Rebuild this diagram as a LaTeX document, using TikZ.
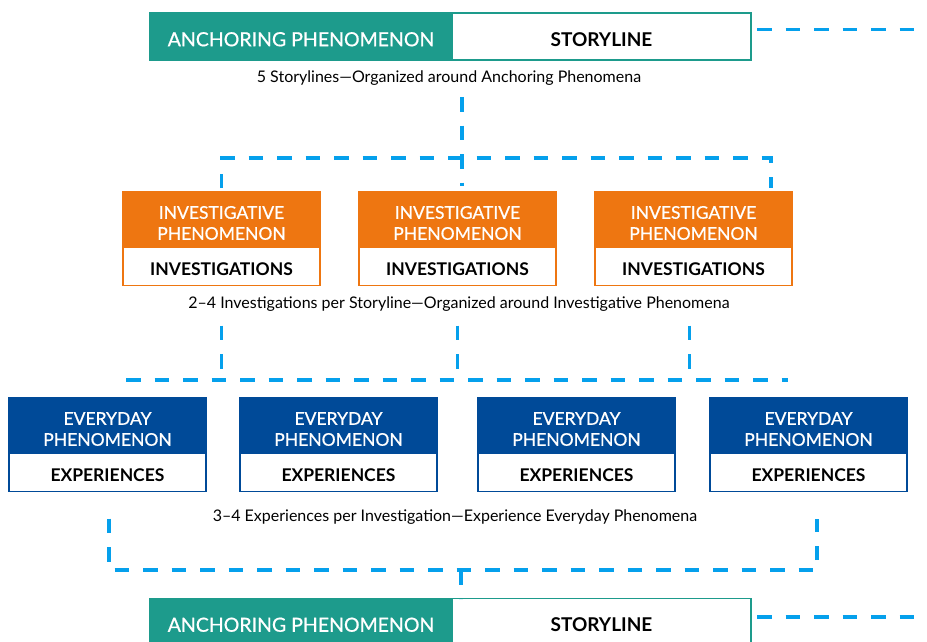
\documentclass[tikz,border=0pt]{standalone}
\usepackage{fontspec}
\setmainfont{Lato}
\newfontfamily\medfont{Lato}[FakeBold=0.7]
\usetikzlibrary{positioning, calc}
\definecolor{anchorteal}{RGB}{29,155,140}
\definecolor{invorange}{RGB}{238,118,17}
\definecolor{dayblue}{RGB}{0,74,152}
\definecolor{linkblue}{RGB}{5,160,236}
\tikzset{
    anchorbox/.style={rectangle, draw=anchorteal, fill=anchorteal, line width=1.2pt, outer sep=0pt, inner sep=0pt, minimum width=302pt, minimum height=47pt, text=white, text height=19.5pt, text depth=0pt, font=\medfont\fontsize{19.5}{20}\selectfont},
    storybox/.style={rectangle, draw=anchorteal, fill=white, line width=1.2pt, outer sep=0pt, inner sep=0pt, minimum width=299pt, minimum height=47pt, text height=19.5pt, text depth=0pt, font=\bfseries\fontsize{19}{20}\selectfont},
    phenbox/.style={rectangle, draw=#1, fill=#1, line width=1.5pt, outer sep=0pt, inner sep=0pt, minimum width=197pt, minimum height=55pt, align=center, text=white, text height=40.5pt, text depth=0pt, font=\medfont\fontsize{17.5}{21}\selectfont},
    workbox/.style={rectangle, draw=#1, fill=white, line width=1.5pt, outer sep=0pt, inner sep=0pt, minimum width=197pt, minimum height=38.5pt, text height=17.5pt, text depth=0pt, font=\bfseries\fontsize{17.5}{18}\selectfont},
    caption/.style={font=\fontsize{16}{17}\selectfont},
    link/.style={draw=linkblue, line width=3.2pt, dash pattern=on 14.5pt off 14pt}
}

\begin{document}
\begin{tikzpicture}[x=1pt, y=-1pt]
    \useasboundingbox (0,0) rectangle (927,642);

    % storyline
    \node (anc1) [anchorbox] at (301,36.5) {ANCHORING PHENOMENON};
    \node (story1) [storybox, right=0pt of anc1] {STORYLINE};
    \node (cap1) [caption] at (449,78) {5 Storylines—Organized around Anchoring Phenomena};

    % investigations
    \node (ip1) [phenbox=invorange] at (221.5,219.5) {INVESTIGATIVE\\PHENOMENON};
    \node (inv1) [workbox=invorange, below=0pt of ip1] {INVESTIGATIONS};
    \node (ip2) [phenbox=invorange, right=39pt of ip1] {INVESTIGATIVE\\PHENOMENON};
    \node (inv2) [workbox=invorange, below=0pt of ip2] {INVESTIGATIONS};
    \node (ip3) [phenbox=invorange, right=39pt of ip2] {INVESTIGATIVE\\PHENOMENON};
    \node (inv3) [workbox=invorange, below=0pt of ip3] {INVESTIGATIONS};
    \node (cap2) [caption] at (459,304) {2–4 Investigations per Storyline—Organized around Investigative Phenomena};

    % experiences
    \node (ep1) [phenbox=dayblue] at (107.5,425.5) {EVERYDAY\\PHENOMENON};
    \node (ex1) [workbox=dayblue, below=0pt of ep1] {EXPERIENCES};
    \node (ep2) [phenbox=dayblue, right=34pt of ep1] {EVERYDAY\\PHENOMENON};
    \node (ex2) [workbox=dayblue, below=0pt of ep2] {EXPERIENCES};
    \node (ep3) [phenbox=dayblue, right=41pt of ep2] {EVERYDAY\\PHENOMENON};
    \node (ex3) [workbox=dayblue, below=0pt of ep3] {EXPERIENCES};
    \node (ep4) [phenbox=dayblue, right=35pt of ep3] {EVERYDAY\\PHENOMENON};
    \node (ex4) [workbox=dayblue, below=0pt of ep4] {EXPERIENCES};
    \node (cap3) [caption] at (455,517) {3–4 Experiences per Investigation—Experience Everyday Phenomena};

    % next storyline
    \node (anc2) [anchorbox] at (301,622) {ANCHORING PHENOMENON};
    \node (story2) [storybox, right=0pt of anc2] {STORYLINE};

    % links
    \coordinate (hub1) at (462,158);
    \coordinate (hub2) at (461,570);
    \coordinate (out1) at (930,29.5);
    \coordinate (out2) at (930,617);
    \draw [link] ([xshift=6pt]story1.east |- out1) -- (out1);
    \draw [link] ([xshift=6pt]story2.east |- out2) -- (out2);
    \draw [link] (hub1 |- 0,97) -- (hub1) -- ([yshift=6pt]ip2.north -| hub1);
    \draw [link] ([yshift=4pt]ip1.north) |- (hub1) -| ([xshift=77.5pt,yshift=4pt]ip3.north);
    \draw [link] ([yshift=-40pt]inv1.south) -- ([yshift=-95pt]inv1.south);
    \draw [link] ([yshift=-40pt]inv2.south) -- ([yshift=-95pt]inv2.south);
    \draw [link] ([xshift=-4pt,yshift=-40pt]inv3.south) -- ([xshift=-4pt,yshift=-95pt]inv3.south);
    \draw [link] (126,380) -- (788,380);
    \draw [link] ([xshift=1.5pt,yshift=-27pt]ex1.south) |- (hub2) -| ([xshift=8.5pt,yshift=-27pt]ex4.south);
    \draw [link] (hub2) -- (anc2.north -| hub2);
\end{tikzpicture}
\end{document}
